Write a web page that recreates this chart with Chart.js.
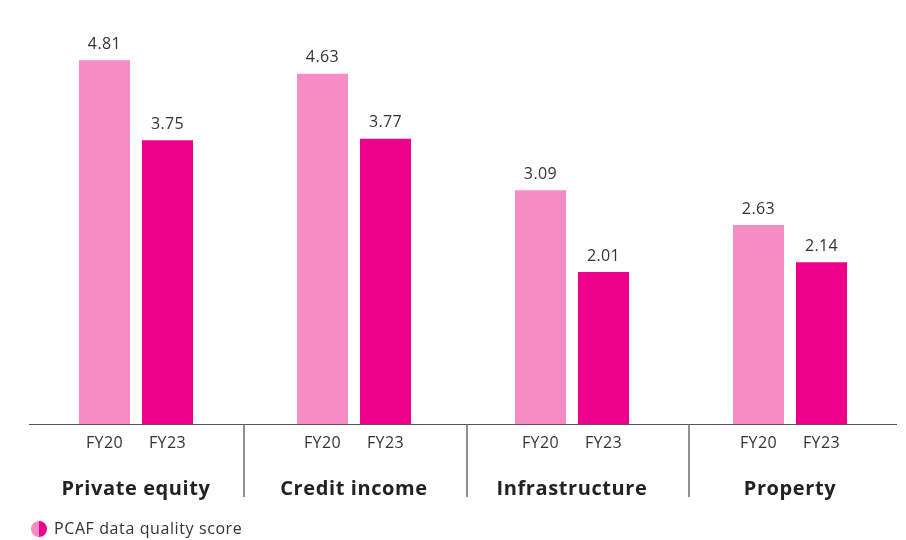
<!DOCTYPE html>
<html>
<head>
<meta charset="utf-8">
<script src="https://cdn.jsdelivr.net/npm/chart.js@4"></script>
<style>
  html, body { margin:0; padding:0; background:#fff; }
  #wrap { width:906px; height:540px; }
</style>
</head>
<body>
<div id="wrap"><canvas id="c" width="906" height="540"></canvas></div>
<script>
// ── data ──
var categories = ['Private equity', 'Credit income', 'Infrastructure', 'Property'];
var seriesNames = ['FY20', 'FY23'];
var fy20 = [4.81, 4.63, 3.09, 2.63];
var fy23 = [3.75, 3.77, 2.01, 2.14];
var legendLabel = 'PCAF data quality score';

var LIGHT = '#f78bc4', DARK = '#ec008c';
var FONT = '"Open Sans", "Liberation Sans", sans-serif';
var SEP_X = [244, 467, 689];

// draws value labels, FY labels, axis line, group labels, separators and legend
var decor = {
    id: 'decor',
    afterDatasetsDraw: function(chart) {
        var ctx = chart.ctx, area = chart.chartArea, xs = chart.scales.x;
        ctx.save();
        ctx.textAlign = 'center'; ctx.textBaseline = 'middle';
        ctx.letterSpacing = '0.4px';
        chart.data.datasets.forEach(function(ds, di) {
            chart.getDatasetMeta(di).data.forEach(function(bar, i) {
                ctx.fillStyle = '#333';
                ctx.font = '16px ' + FONT;
                ctx.fillText(ds.data[i].toFixed(2), bar.x, bar.y - 16);
                ctx.fillText(ds.label, bar.x, area.bottom + 19);
            });
        });
        // baseline
        ctx.strokeStyle = '#555'; ctx.lineWidth = 1;
        ctx.beginPath(); ctx.moveTo(29, area.bottom + 0.5); ctx.lineTo(897, area.bottom + 0.5); ctx.stroke();
        // separators
        ctx.strokeStyle = '#6b6b6b'; ctx.lineWidth = 1.5;
        SEP_X.forEach(function(x) {
            ctx.beginPath(); ctx.moveTo(x, area.bottom); ctx.lineTo(x, area.bottom + 73); ctx.stroke();
        });
        // group labels
        ctx.fillStyle = '#222';
        ctx.font = 'bold 20px ' + FONT;
        ctx.letterSpacing = '0.6px';
        categories.forEach(function(c, i) {
            ctx.fillText(c, xs.getPixelForValue(i), area.bottom + 65);
        });
        // legend
        var cx = 39, cy = 529, r = 8;
        ctx.fillStyle = LIGHT;
        ctx.beginPath(); ctx.arc(cx, cy, r, Math.PI / 2, Math.PI * 1.5); ctx.fill();
        ctx.fillStyle = DARK;
        ctx.beginPath(); ctx.arc(cx, cy, r, -Math.PI / 2, Math.PI / 2); ctx.fill();
        ctx.fillStyle = '#333'; ctx.textAlign = 'left';
        ctx.font = '16px ' + FONT;
        ctx.letterSpacing = '0.6px';
        ctx.fillText(legendLabel, 54, cy);
        ctx.restore();
    }
};

new Chart(document.getElementById('c'), {
    type: 'bar',
    data: {
        labels: categories,
        datasets: [
            { label: seriesNames[0], data: fy20, backgroundColor: LIGHT },
            { label: seriesNames[1], data: fy23, backgroundColor: DARK }
        ]
    },
    options: {
        responsive: false,
        animation: false,
        layout: { padding: { left: 27, right: 7, top: 8, bottom: 116 } },
        categoryPercentage: 0.578,
        barPercentage: 0.81,
        plugins: { legend: { display: false }, tooltip: { enabled: false } },
        scales: {
            x: { display: false },
            y: { display: false, min: 0, max: 5.5 }
        }
    },
    plugins: [decor]
});
</script>
</body>
</html>
